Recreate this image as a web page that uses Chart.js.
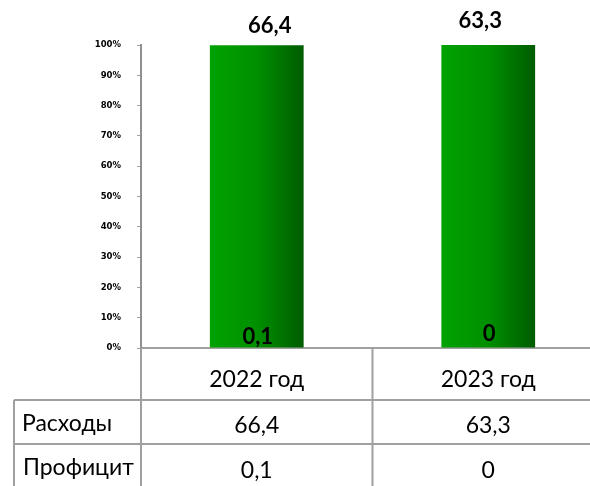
<!DOCTYPE html>
<html>
<head>
<meta charset="utf-8">
<script src="https://cdn.jsdelivr.net/npm/chart.js@4"></script>
<style>
  html, body { margin: 0; padding: 0; overflow: hidden; background: #fff; }
  #wrap { width: 604px; height: 486px; }
</style>
</head>
<body>
<div id="wrap"><canvas id="chart" width="604" height="486"></canvas></div>
<script>
// data
const categories = ["2022 год", "2023 год"];
const seriesNames = ["Расходы", "Профицит"];
const expenses = [66.4, 63.3];
const surplus = [0.1, 0];
const yTicks = [0, 10, 20, 30, 40, 50, 60, 70, 80, 90, 100];

const series = [expenses, surplus];
const totals = categories.map((c, i) => expenses[i] + surplus[i]);
const pct = arr => arr.map((v, i) => totals[i] ? v / totals[i] * 100 : 0);
const fmt = v => String(v).replace(".", ",");

const FONT = "Lato, 'Open Sans', sans-serif";
const LINE = "#a0a0a0";

// green gradient across each bar
function barFill(ctx) {
  const chart = ctx.chart;
  const x = chart.scales.x;
  if (!chart.chartArea || !x) return "#009000";
  const meta = chart.getDatasetMeta(ctx.datasetIndex);
  const el = meta.data[ctx.dataIndex];
  const w = el && el.width ? el.width : 94;
  const cx = x.getPixelForValue(ctx.dataIndex);
  const g = chart.ctx.createLinearGradient(cx - w / 2, 0, cx + w / 2, 0);
  g.addColorStop(0, "#00a200");
  g.addColorStop(0.5, "#008f00");
  g.addColorStop(1, "#005c00");
  return g;
}

// labels: expenses above the bar top, surplus at the base
const labelsPlugin = {
  id: "valueLabels",
  afterDatasetsDraw(chart) {
    const { ctx, scales: { x, y } } = chart;
    ctx.save();
    ctx.font = "bold 22px " + FONT;
    ctx.fillStyle = "#000";
    ctx.textAlign = "center";
    ctx.textBaseline = "middle";
    const topNudge = [[13, 0], [-8, -5]];
    const baseNudge = [[1, 0], [1, -3]];
    categories.forEach((c, i) => {
      const cx = x.getPixelForValue(i);
      ctx.fillText(fmt(expenses[i]), cx + topNudge[i][0], y.getPixelForValue(100) - 19 + topNudge[i][1]);
      ctx.fillText(fmt(surplus[i]), cx + baseNudge[i][0], y.getPixelForValue(0) - 11 + baseNudge[i][1]);
    });
    ctx.restore();
  }
};

// data table under the plot
const tablePlugin = {
  id: "dataTable",
  afterDraw(chart) {
    const { ctx, chartArea: a, scales: { x } } = chart;
    const H = chart.height;
    const left = 14;
    const r1 = 400, r2 = 444;
    const mid = (x.getPixelForValue(0) + x.getPixelForValue(1)) / 2;
    ctx.save();
    ctx.strokeStyle = LINE;
    ctx.lineWidth = 2;
    ctx.beginPath();
    // y axis continues down through the table
    ctx.moveTo(a.left, a.bottom); ctx.lineTo(a.left, H);
    ctx.moveTo(mid, a.bottom); ctx.lineTo(mid, H);
    ctx.moveTo(left, r1); ctx.lineTo(a.right, r1);
    ctx.moveTo(left, r2); ctx.lineTo(a.right, r2);
    ctx.moveTo(left, r1); ctx.lineTo(left, H);
    ctx.stroke();

    ctx.fillStyle = "#000";
    ctx.font = "23px " + FONT;
    ctx.textBaseline = "middle";
    ctx.textAlign = "center";
    categories.forEach((c, i) => {
      const cx = x.getPixelForValue(i);
      ctx.fillText(c, cx, 380);
      ctx.fillText(fmt(expenses[i]), cx, 426);
      ctx.fillText(fmt(surplus[i]), cx, 471);
    });
    ctx.textAlign = "left";
    ctx.fillText(seriesNames[0], 22, 424);
    ctx.fillText(seriesNames[1], 23, 468);
    ctx.restore();
  }
};

new Chart(document.getElementById("chart"), {
  type: "bar",
  data: {
    labels: categories,
    datasets: series.map((s, k) => ({
      label: seriesNames[k],
      data: pct(s),
      backgroundColor: barFill,
      borderWidth: 0,
      categoryPercentage: 1,
      barPercentage: 0.405
    }))
  },
  options: {
    responsive: false,
    animation: false,
    layout: { padding: { top: 45, left: 0, right: 0, bottom: 0 } },
    plugins: { legend: { display: false }, tooltip: { enabled: false } },
    scales: {
      x: {
        stacked: true,
        ticks: { display: false },
        grid: { display: false },
        border: { display: true, color: LINE, width: 2 },
        afterFit(s) { s.height = 138; }
      },
      y: {
        stacked: true,
        min: 0,
        max: 100,
        afterBuildTicks(s) { s.ticks = yTicks.map(v => ({ value: v })); },
        afterFit(s) { s.width = 141; },
        ticks: {
          padding: 16,
          color: "#000",
          font: { family: "'DejaVu Sans', sans-serif", size: 8.5, weight: "bold" },
          callback: v => v + "%"
        },
        grid: { drawOnChartArea: false, tickLength: 4, color: LINE, lineWidth: 1 },
        border: { display: true, color: "#909090", width: 2 }
      }
    }
  },
  plugins: [labelsPlugin, tablePlugin]
});
</script>
</body>
</html>
